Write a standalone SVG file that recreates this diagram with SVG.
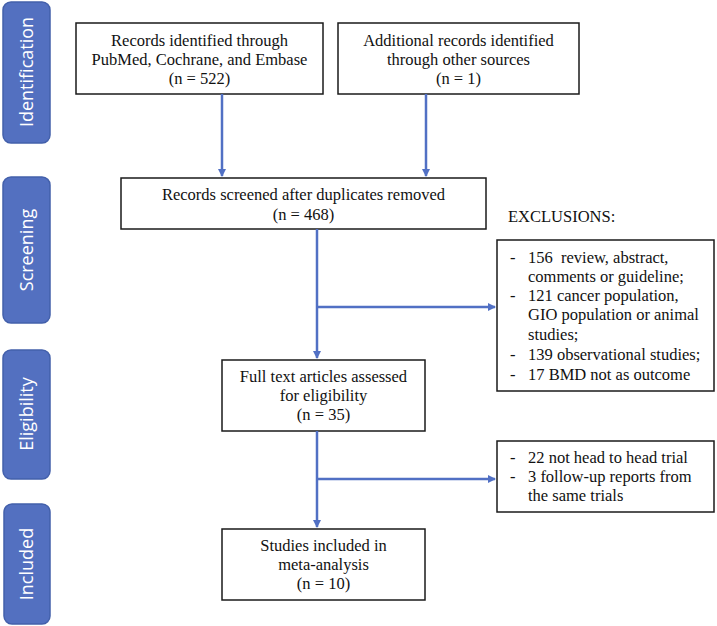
<svg xmlns="http://www.w3.org/2000/svg" width="717" height="626" viewBox="0 0 717 626">
<style>
.bar{fill:#5370c0;stroke:#4360ab;stroke-width:1.5}
.bt{font-family:"Open Sans","Liberation Sans",sans-serif;font-size:18px;fill:#fff;text-anchor:middle}
.box{fill:#fff;stroke:#1a1a1a;stroke-width:1.5}
.t{font-family:"Liberation Serif","Times New Roman",serif;font-size:16.5px;fill:#111}
.c{text-anchor:middle}
.ln{fill:none;stroke:#5170c4;stroke-width:2.5}
</style>
<defs>
<marker id="ah" markerWidth="8" markerHeight="8" refX="7" refY="4" orient="auto" markerUnits="userSpaceOnUse">
<path d="M0,0 L8,4 L0,8 Z" fill="#5170c4"/>
</marker>
</defs>
<rect width="717" height="626" fill="#fff"/>
<g id="phase-identification"><rect class="bar" x="3" y="2" width="47" height="141" rx="8"/><text class="bt" transform="translate(33,72) rotate(-90)">Identification</text></g>
<g id="phase-screening"><rect class="bar" x="3" y="177" width="47" height="146" rx="8"/><text class="bt" transform="translate(33,250) rotate(-90)">Screening</text></g>
<g id="phase-eligibility"><rect class="bar" x="3" y="350" width="47" height="129" rx="8"/><text class="bt" transform="translate(33,414) rotate(-90)">Eligibility</text></g>
<g id="phase-included"><rect class="bar" x="4" y="504" width="46" height="120" rx="8"/><text class="bt" transform="translate(33,564) rotate(-90)">Included</text></g>

<g id="n-records-db"><rect class="box" x="76" y="23" width="247" height="71"/>
<text class="t c" x="199.5" y="46">Records identified through</text>
<text class="t c" x="199.5" y="65">PubMed, Cochrane, and Embase</text>
<text class="t c" x="199.5" y="84">(n = 522)</text></g>

<g id="n-records-other"><rect class="box" x="338" y="23" width="241" height="71"/>
<text class="t c" x="458.5" y="46">Additional records identified</text>
<text class="t c" x="458.5" y="65">through other sources</text>
<text class="t c" x="458.5" y="84">(n = 1)</text></g>

<g id="n-screened"><rect class="box" x="121" y="178" width="365" height="51"/>
<text class="t c" x="303.5" y="200">Records screened after duplicates removed</text>
<text class="t c" x="303.5" y="220">(n = 468)</text></g>

<g id="n-exclusions-label"><text class="t" x="508" y="222">EXCLUSIONS:</text></g>

<g id="n-excl1"><rect class="box" x="497" y="240" width="217" height="151"/>
<text class="t" x="510" y="263">-</text><text class="t" x="528" y="263">156&#160; review, abstract,</text>
<text class="t" x="528" y="282">comments or guideline;</text>
<text class="t" x="510" y="301">-</text><text class="t" x="528" y="301">121 cancer population,</text>
<text class="t" x="528" y="320">GIO population or animal</text>
<text class="t" x="528" y="340">studies;</text>
<text class="t" x="510" y="360">-</text><text class="t" x="528" y="360">139 observational studies;</text>
<text class="t" x="510" y="380">-</text><text class="t" x="528" y="380">17 BMD not as outcome</text></g>

<g id="n-fulltext"><rect class="box" x="222" y="360" width="203" height="71"/>
<text class="t c" x="323.5" y="382">Full text articles assessed</text>
<text class="t c" x="323.5" y="401">for eligibility</text>
<text class="t c" x="323.5" y="420">(n = 35)</text></g>

<g id="n-excl2"><rect class="box" x="497" y="441" width="217" height="71"/>
<text class="t" x="510" y="463">-</text><text class="t" x="528" y="463">22 not head to head trial</text>
<text class="t" x="510" y="482">-</text><text class="t" x="528" y="482">3 follow-up reports from</text>
<text class="t" x="528" y="501">the same trials</text></g>

<g id="n-included"><rect class="box" x="222" y="529" width="203" height="71"/>
<text class="t c" x="323.5" y="551">Studies included in</text>
<text class="t c" x="323.5" y="570">meta-analysis</text>
<text class="t c" x="323.5" y="589">(n = 10)</text></g>

<g id="connectors">
<line class="ln" x1="222" y1="94" x2="222" y2="176" marker-end="url(#ah)"/>
<line class="ln" x1="426" y1="94" x2="426" y2="176" marker-end="url(#ah)"/>
<line class="ln" x1="317" y1="229" x2="317" y2="358" marker-end="url(#ah)"/>
<line class="ln" x1="317" y1="307" x2="495" y2="307" marker-end="url(#ah)"/>
<line class="ln" x1="317" y1="431" x2="317" y2="527" marker-end="url(#ah)"/>
<line class="ln" x1="317" y1="479" x2="495" y2="479" marker-end="url(#ah)"/>
</g>
</svg>
